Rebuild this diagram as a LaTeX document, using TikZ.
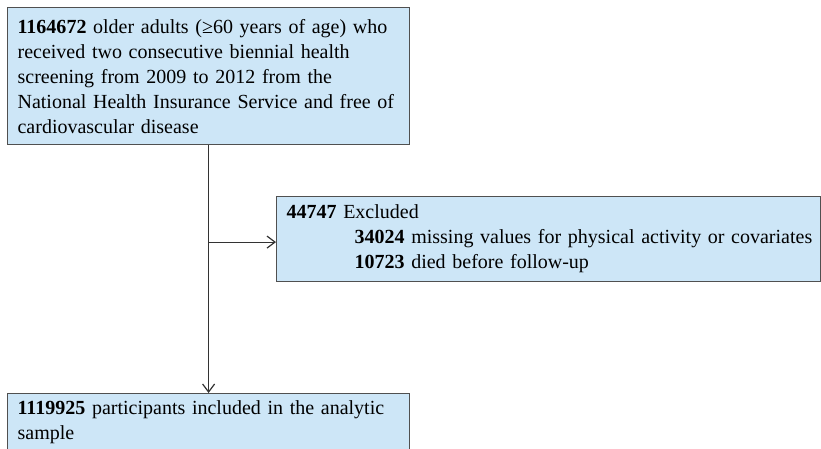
\documentclass[tikz,border=0pt]{standalone}
\usepackage{fontspec}
\setmainfont{Liberation Serif}
\usetikzlibrary{positioning}
\usetikzlibrary{arrows.meta}
\definecolor{boxblue}{RGB}{205,230,247}
\definecolor{boxline}{RGB}{80,80,80}

\begin{document}
\begin{tikzpicture}[x=1pt, y=1pt,
  flowbox/.style={draw=boxline, fill=boxblue, line width=1.2pt, align=left,
    anchor=north west, inner xsep=10pt, inner ysep=4pt,
    font=\fontsize{20}{25}\selectfont},
  flowarrow/.style={draw=black!80, line width=1.2pt,
    -{Straight Barb[length=8pt, width=12pt]}}]
  \useasboundingbox (0,0) rectangle (821,-448);
  % screened cohort, top left
  \node[flowbox, text width=382pt, minimum height=137pt] (cohort) at (7,-7)
    {\textbf{1164672} older adults (≥60 years of age) who\\
     received two consecutive biennial health\\
     screening from 2009 to 2012 from the\\
     National Health Insurance Service and free of\\
     cardiovascular disease};
  % exclusions, off to the right (narrow right margin)
  \node[flowbox, inner xsep=5pt, text width=534pt, minimum height=85pt]
    (excl) at (276,-196)
    {\hspace*{5pt}\textbf{44747} Excluded\\
     \hspace*{73pt}\textbf{34024} missing values for physical activity or covariates\\
     \hspace*{73pt}\textbf{10723} died before follow-up};
  % analytic sample, cut by the lower edge
  \node[flowbox, text width=382pt, minimum height=58pt] (final) at (7,-393)
    {\textbf{1119925} participants included in the analytic\\
     sample};
  % connectors
  \coordinate (split) at ([yshift=-3pt]excl.west -| cohort.south);
  \draw[flowarrow] (cohort.south) -- (final.north);
  \draw[flowarrow] (split) -- (split -| excl.west);
\end{tikzpicture}
\end{document}
